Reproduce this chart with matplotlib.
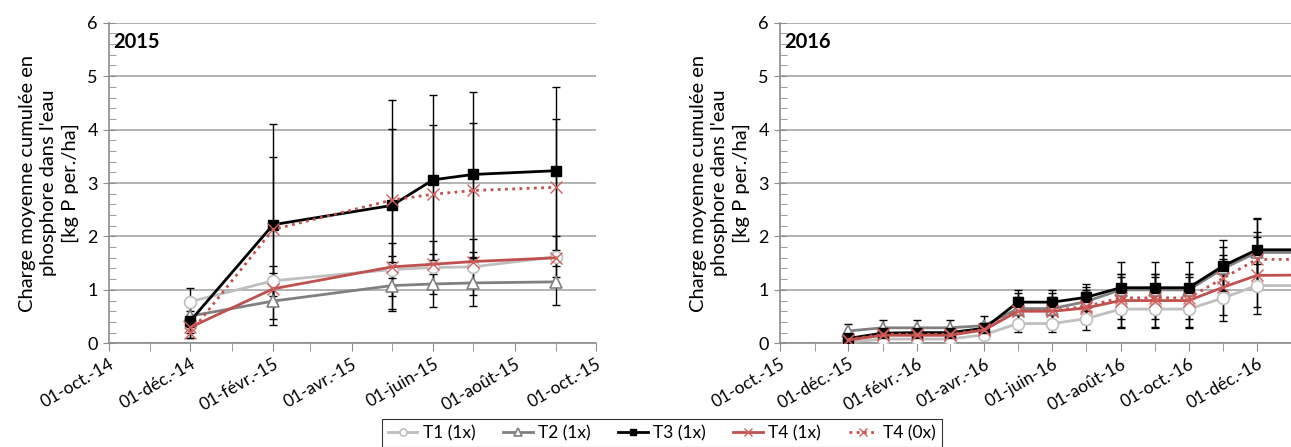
import matplotlib
matplotlib.use("Agg")
import matplotlib.pyplot as plt
import matplotlib.dates as mdates
import numpy as np

plt.rcParams["font.family"] = ["Lato", "DejaVu Sans"]

# --- 2015 season -----------------------------------------------------------
dates_2015 = ["2014-12-01", "2015-02-01", "2015-05-01", "2015-06-01",
              "2015-07-01", "2015-09-01"]
t1_2015 = [0.78, 1.17, 1.38, 1.42, 1.43, 1.62]
t2_2015 = [0.51, 0.79, 1.08, 1.11, 1.13, 1.15]
t3_2015 = [0.42, 2.22, 2.58, 3.06, 3.16, 3.23]
t4_2015 = [0.30, 1.02, 1.43, 1.48, 1.53, 1.60]
t4b_2015 = [0.20, 2.13, 2.68, 2.79, 2.86, 2.92]
t1_2015_err = [0.25, 0.28, 0.49, 0.49, 0.52, 0.38]
t2_2015_err = [0.10, 0.34, 0.44, 0.44, 0.43, 0.43]
t3_2015_err = [0.33, 1.88, 1.97, 1.58, 1.54, 1.56]
t4_2015_err = [0.10, 0.30, 0.20, 0.19, 0.17, 0.15]
t4b_2015_err = [0.10, 1.36, 1.33, 1.29, 1.27, 1.28]
ticks_2015 = ["2014-10-01", "2014-12-01", "2015-02-01", "2015-04-01",
              "2015-06-01", "2015-08-01", "2015-10-01"]
labels_2015 = ["01-oct.-14", "01-déc.-14", "01-févr.-15", "01-avr.-15",
               "01-juin-15", "01-août-15", "01-oct.-15"]

# --- 2016 season -----------------------------------------------------------
dates_2016 = ["2015-12-01", "2016-01-01", "2016-02-01", "2016-03-01",
              "2016-04-01", "2016-05-01", "2016-06-01", "2016-07-01",
              "2016-08-01", "2016-09-01", "2016-10-01", "2016-11-01",
              "2016-12-01", "2017-01-20"]
t1_2016 = [0.02, 0.08, 0.08, 0.08, 0.16, 0.37, 0.37, 0.46, 0.64, 0.64, 0.64,
           0.85, 1.08, 1.08]
t2_2016 = [0.23, 0.29, 0.29, 0.29, 0.33, 0.65, 0.65, 0.78, 1.00, 1.00, 1.00,
           1.40, 1.70, 1.70]
t3_2016 = [0.09, 0.19, 0.20, 0.20, 0.28, 0.77, 0.77, 0.86, 1.04, 1.04, 1.04,
           1.45, 1.75, 1.75]
t4_2016 = [0.06, 0.15, 0.15, 0.15, 0.25, 0.60, 0.60, 0.66, 0.80, 0.80, 0.80,
           1.05, 1.27, 1.28]
t4b_2016 = [0.07, 0.17, 0.17, 0.17, 0.26, 0.61, 0.61, 0.69, 0.85, 0.85, 0.85,
            1.22, 1.57, 1.57]
t1_2016_err = [0.03, 0.05, 0.05, 0.05, 0.06, 0.16, 0.16, 0.22, 0.36, 0.36,
               0.36, 0.44, 0.40, 0.40]
t2_2016_err = [0.13, 0.14, 0.15, 0.15, 0.18, 0.29, 0.29, 0.27, 0.30, 0.30,
               0.30, 0.40, 0.62, 0.62]
t3_2016_err = [0.06, 0.08, 0.08, 0.08, 0.10, 0.23, 0.23, 0.25, 0.48, 0.48,
               0.48, 0.48, 0.60, 0.60]
t4_2016_err = [0.04, 0.06, 0.06, 0.06, 0.08, 0.22, 0.22, 0.30, 0.50, 0.50,
               0.50, 0.52, 0.72, 0.72]
t4b_2016_err = [0.05, 0.07, 0.07, 0.07, 0.09, 0.26, 0.26, 0.30, 0.40, 0.40,
                0.40, 0.43, 0.52, 0.52]
ticks_2016 = ["2015-10-01", "2015-12-01", "2016-02-01", "2016-04-01",
              "2016-06-01", "2016-08-01", "2016-10-01", "2016-12-01"]
labels_2016 = ["01-oct.-15", "01-déc.-15", "01-févr.-16", "01-avr.-16",
               "01-juin-16", "01-août-16", "01-oct.-16", "01-déc.-16"]

names = ["T1 (1x)", "T2 (1x)", "T3 (1x)", "T4 (1x)", "T4 (0x)"]

styles = [
    dict(color="#bfbfbf", ls="-", marker="o", ms=8.5, mfc="white", mec="#bfbfbf", mew=1.2),
    dict(color="#808080", ls="-", marker="^", ms=8.5, mfc="white", mec="#808080", mew=1.2),
    dict(color="black", ls="-", marker="s", ms=6.5, mfc="black", mec="black", mew=1),
    dict(color="#c0504d", ls="-", marker="x", ms=9, mfc="none", mec="#d0605c", mew=1.0),
    dict(color="#c0504d", ls=(0, (1, 1.6)), marker="x", ms=9, mfc="none", mec="#d0605c", mew=1.0),
]

ylabel = "Charge moyenne cumulée en\nphosphore dans l'eau\n[kg P per./ha]"
grid_c = "#a6a6a6"
axis_c = "#8c8c8c"


def draw_panel(ax, dates, series, errors, ticks, labels, xlim, year):
    x = np.array(dates, dtype="datetime64[D]")
    for vals, err in zip(series, errors):
        ax.errorbar(x, vals, yerr=err, fmt="none", ecolor="black",
                    elinewidth=1, capsize=3, capthick=1, zorder=2)
    for vals, name, st in zip(series, names, styles):
        ax.plot(x, vals, lw=2, label=name, zorder=3, **st)

    ax.set_ylim(0, 6)
    ax.set_xlim(np.datetime64(xlim[0]), np.datetime64(xlim[1]))
    ax.set_yticks(range(7))
    ax.yaxis.set_minor_locator(plt.MultipleLocator(0.2))
    ax.grid(axis="y", color=grid_c, lw=1.2)
    ax.set_axisbelow(True)

    ax.set_xticks(np.array(ticks, dtype="datetime64[D]"))
    ax.set_xticklabels(labels, rotation=30, ha="right", rotation_mode="anchor")
    ax.xaxis.set_minor_locator(mdates.MonthLocator())

    for s in ["top", "right"]:
        ax.spines[s].set_visible(False)
    for s in ["left", "bottom"]:
        ax.spines[s].set_color(axis_c)
        ax.spines[s].set_linewidth(1.2)
    ax.tick_params(axis="y", which="major", direction="inout", length=8,
                   color=axis_c, labelsize=13, pad=4)
    ax.tick_params(axis="y", which="minor", direction="in", length=5, color=axis_c)
    ax.tick_params(axis="x", which="major", direction="out", length=6,
                   color=axis_c, labelsize=12.5, pad=3)
    ax.tick_params(axis="x", which="minor", direction="out", length=6, color=axis_c)

    ax.set_ylabel(ylabel, fontsize=14.5, linespacing=1.3, labelpad=6)
    ax.text(0.008, 0.94, year, transform=ax.transAxes, fontsize=14.5,
            fontweight="bold", va="center")


fig = plt.figure(figsize=(12.91, 4.47), dpi=100)
ax1 = fig.add_axes([109 / 1291, 1 - 343.3 / 447, 487 / 1291, 320.6 / 447])
ax2 = fig.add_axes([780 / 1291, 1 - 343.3 / 447, 546 / 1291, 320.6 / 447])

draw_panel(ax1, dates_2015,
           [t1_2015, t2_2015, t3_2015, t4_2015, t4b_2015],
           [t1_2015_err, t2_2015_err, t3_2015_err, t4_2015_err, t4b_2015_err],
           ticks_2015, labels_2015, ("2014-10-01", "2015-10-01"), "2015")
draw_panel(ax2, dates_2016,
           [t1_2016, t2_2016, t3_2016, t4_2016, t4b_2016],
           [t1_2016_err, t2_2016_err, t3_2016_err, t4_2016_err, t4b_2016_err],
           ticks_2016, labels_2016, ("2015-10-01", "2017-02-01"), "2016")

handles, lbls = ax1.get_legend_handles_labels()
leg = fig.legend(handles, lbls, loc="upper center",
                 bbox_to_anchor=(662 / 1291, 1 - 419 / 447), ncol=5, fontsize=12.5,
                 frameon=True, fancybox=False, edgecolor="black",
                 markerscale=0.6, handlelength=1.7, columnspacing=1.6,
                 handletextpad=0.3, borderpad=0.35, borderaxespad=0)
leg.get_frame().set_linewidth(0.8)

fig.savefig("out.png", dpi=100)
